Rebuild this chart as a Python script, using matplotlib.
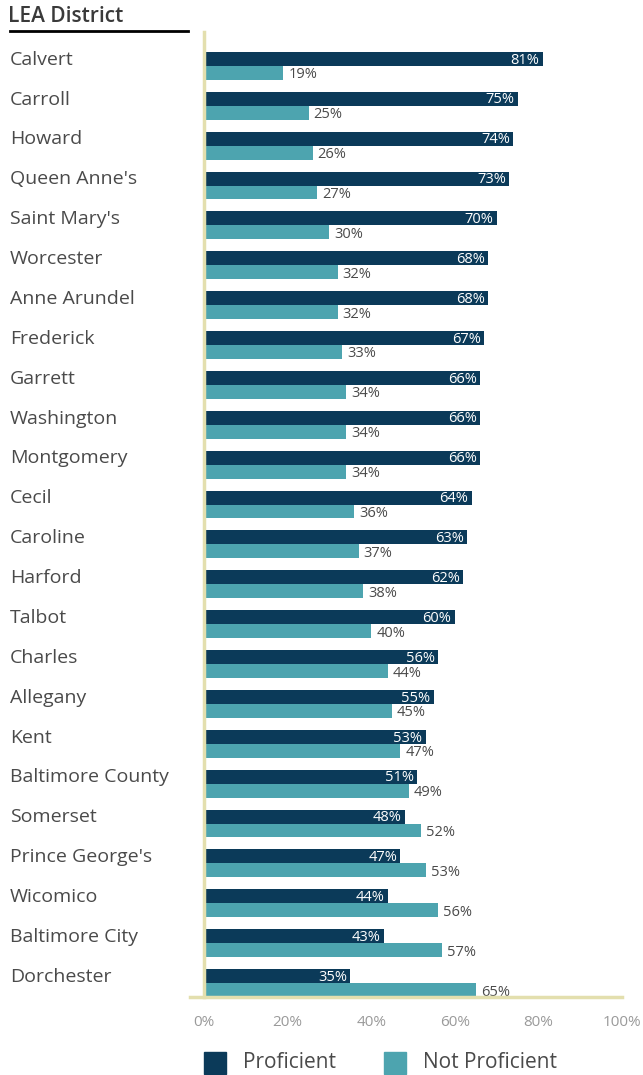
import matplotlib.pyplot as plt
import matplotlib.transforms as mtrans
from matplotlib.patches import Rectangle
from matplotlib.lines import Line2D

plt.rcParams['font.family'] = ['Open Sans', 'DejaVu Sans']

districts = ["Calvert", "Carroll", "Howard", "Queen Anne's", "Saint Mary's", "Worcester",
             "Anne Arundel", "Frederick", "Garrett", "Washington", "Montgomery", "Cecil",
             "Caroline", "Harford", "Talbot", "Charles", "Allegany", "Kent",
             "Baltimore County", "Somerset", "Prince George's", "Wicomico",
             "Baltimore City", "Dorchester"]
proficient = [81, 75, 74, 73, 70, 68, 68, 67, 66, 66, 66, 64, 63, 62, 60, 56, 55, 53,
              51, 48, 47, 44, 43, 35]
not_proficient = [19, 25, 26, 27, 30, 32, 32, 33, 34, 34, 34, 36, 37, 38, 40, 44, 45, 47,
                  49, 52, 53, 56, 57, 65]
x_ticks = [0, 20, 40, 60, 80, 100]

DARK = "#0B3A59"
TEAL = "#4DA4AF"
AXIS = "#E3DFAE"
TEXT = "#4a4a4a"

W, H = 643, 1075
fig = plt.figure(figsize=(W / 100, H / 100), dpi=100)
ax = fig.add_axes([204 / W, 1 - 997 / H, (622 - 204) / W, (997 - 32) / H])

bh = 0.35
ys = list(range(len(districts)))
ax.barh([y - bh / 2 for y in ys], proficient, height=bh, color=DARK)
ax.barh([y + bh / 2 for y in ys], not_proficient, height=bh, color=TEAL)

# value labels: inside for proficient, outside for not proficient
for y, p, n in zip(ys, proficient, not_proficient):
    ax.text(p - 0.8, y - bh / 2 + 0.03, f"{p}%", color="white", fontsize=10.5,
            ha="right", va="center")
    ax.text(n + 1.2, y + bh / 2 + 0.05, f"{n}%", color=TEXT, fontsize=10.5,
            ha="left", va="center")

ax.set_xlim(0, 100)
ax.set_ylim(len(districts) - 1 + bh, -0.85)
ax.set_xticks(x_ticks)
ax.set_xticklabels([f"{t}%" for t in x_ticks], color="#9a9a9a", fontsize=11)
ax.tick_params(axis="x", length=0, pad=13)
ax.set_yticks([])
for s in ["top", "right", "bottom"]:
    ax.spines[s].set_visible(False)
ax.spines["left"].set_color(AXIS)
ax.spines["left"].set_linewidth(2.5)

# district labels on the left
lab_tr = mtrans.blended_transform_factory(fig.transFigure, ax.transData)
for y, name in enumerate(districts):
    ax.text(10 / W, y - bh / 2 + 0.02, name, color=TEXT, fontsize=14, ha="left",
            va="center", transform=lab_tr, clip_on=False)

# bottom axis line extending slightly left
fig.add_artist(Line2D([190 / W, 622 / W], [1 - 997 / H] * 2, color=AXIS, lw=2.5))

# header
fig.text(8 / W, 1 - 17 / H, "LEA District", color="#3a3a3a", fontsize=15,
         fontweight="semibold", ha="left", va="center")
fig.add_artist(Line2D([10 / W, 188 / W], [1 - 31 / H] * 2, color="black", lw=2))

# legend
fig.add_artist(Rectangle((204 / W, 1 - 1074 / H), 22 / W, 22 / H, color=DARK))
fig.text(243 / W, 1 - 1062 / H, "Proficient", color=TEXT, fontsize=15, va="center")
fig.add_artist(Rectangle((384 / W, 1 - 1074 / H), 22 / W, 22 / H, color=TEAL))
fig.text(423 / W, 1 - 1062 / H, "Not Proficient", color=TEXT, fontsize=15, va="center")

fig.savefig("out.png", dpi=100)
